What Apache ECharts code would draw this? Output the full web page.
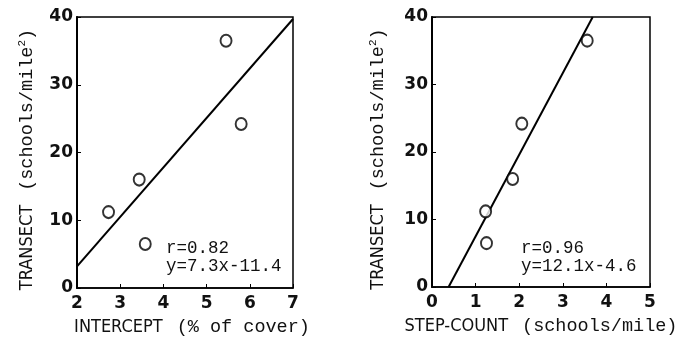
<!DOCTYPE html>
<html>
<head>
<meta charset="utf-8">
<script src="https://cdn.jsdelivr.net/npm/echarts@6/dist/echarts.min.js"></script>
<style>
  html, body { margin: 0; padding: 0; background: #fff; }
  #chart { width: 685px; height: 338px; }
</style>
</head>
<body>
<div id="chart"></div>
<script>
// Transect density for five sites (schools per square mile)
const transect = [6.5, 11.2, 16.0, 24.2, 36.5];
// Line-intercept estimate for the same sites (% of cover)
const interceptCover = [3.58, 2.73, 3.44, 5.80, 5.45];
// Step-count estimate for the same sites (schools per mile)
const stepCount = [1.25, 1.23, 1.85, 2.06, 3.56];

// Least-squares fits as printed on each panel
const fitIntercept = { r: 0.82, slope: 7.3, offset: -11.4 };
const fitStep = { r: 0.96, slope: 12.1, offset: -4.6 };

// Axis ranges and tick labels
const xTicksIntercept = [2, 3, 4, 5, 6, 7];
const xTicksStep = [0, 1, 2, 3, 4, 5];
const yTicks = [0, 10, 20, 30, 40];

const SANS_NARROW = '"Liberation Sans Narrow", "DejaVu Sans Condensed", "Liberation Sans", sans-serif';
const MONO = '"Liberation Mono", "DejaVu Sans Mono", monospace';
const TICK_FONT = '"DejaVu Sans", "Liberation Sans", sans-serif';

// Endpoints of a fitted line, clipped to the plotting window
function fitSegment(fit, xMin, xMax, yMin, yMax) {
  let x0 = xMin, x1 = xMax;
  const xAtYMin = (yMin - fit.offset) / fit.slope;
  const xAtYMax = (yMax - fit.offset) / fit.slope;
  x0 = Math.max(x0, Math.min(xAtYMin, xAtYMax));
  x1 = Math.min(x1, Math.max(xAtYMin, xAtYMax));
  return [[x0, fit.slope * x0 + fit.offset], [x1, fit.slope * x1 + fit.offset]];
}

const yName = '{t|TRANSECT}{g| }{m|(schools/mile}{s|2}{m|)}';
const nameRich = {
  t: { fontFamily: SANS_NARROW, fontSize: 18, color: '#111' },
  g: { fontFamily: MONO, fontSize: 18, color: '#111', width: 14 },
  m: { fontFamily: MONO, fontSize: 18.5, color: '#111' },
  s: { fontFamily: MONO, fontSize: 11, color: '#111', padding: [0, 0, 9, 0] }
};

function xAxisFor(gridIndex, ticks, label, shift) {
  return {
    type: 'value', gridIndex,
    min: ticks[0], max: ticks[ticks.length - 1], interval: 1,
    name: label, nameLocation: 'middle', nameGap: 30,
    nameTextStyle: { rich: nameRich, padding: [0, 0, 0, shift] },
    axisLine: { show: true, onZero: false, lineStyle: { color: '#000', width: 1.5 } },
    axisTick: { show: true, inside: true, length: 4, lineStyle: { color: '#000', width: 1 } },
    axisLabel: { fontFamily: TICK_FONT, fontSize: 17, fontWeight: 'bold', color: '#111', margin: 7 },
    splitLine: { show: false }
  };
}

function yAxisFor(gridIndex, gap) {
  return {
    type: 'value', gridIndex,
    min: yTicks[0], max: yTicks[yTicks.length - 1], interval: 10,
    name: yName, nameLocation: 'middle', nameGap: gap,
    nameTextStyle: { rich: nameRich, padding: [0, 14, 0, 0] },
    axisLine: { show: true, onZero: false, lineStyle: { color: '#000', width: 2 } },
    axisTick: { show: true, inside: true, length: 4, lineStyle: { color: '#000', width: 1 } },
    axisLabel: { fontFamily: TICK_FONT, fontSize: 17, fontWeight: 'bold', color: '#111', margin: 4 },
    splitLine: { show: false }
  };
}

function pointsFrom(xs, ys) {
  return xs.map((x, i) => [x, ys[i]]);
}

const circleStyle = {
  type: 'scatter',
  symbol: 'emptyCircle',
  symbolSize: [11, 12],
  itemStyle: { color: '#000', borderColor: '#000', borderWidth: 1.3 },
  z: 5
};

const lineStyle = {
  type: 'line',
  showSymbol: false,
  lineStyle: { color: '#000', width: 2 },
  z: 3
};

function statsText(fit) {
  const sign = fit.offset < 0 ? '-' : '+';
  return 'r=' + fit.r.toFixed(2) + '\n' +
    'y=' + fit.slope.toFixed(1) + 'x' + sign + Math.abs(fit.offset).toFixed(1);
}

const chart = echarts.init(document.getElementById('chart'), null, { renderer: 'canvas' });

chart.setOption({
  backgroundColor: '#fff',
  animation: false,
  grid: [
    { left: 77, top: 17, width: 216, height: 271, show: true, borderColor: '#000', borderWidth: 1.5, backgroundColor: 'transparent', outerBoundsMode: 'none' },
    { left: 432, top: 17, width: 218, height: 270, show: true, borderColor: '#000', borderWidth: 1.5, backgroundColor: 'transparent', outerBoundsMode: 'none' }
  ],
  xAxis: [
    xAxisFor(0, xTicksIntercept, '{t|INTERCEPT}{g| }{m|(% of cover)}', 14),
    xAxisFor(1, xTicksStep, '{t|STEP-COUNT}{g| }{m|(schools/mile)}', 0)
  ],
  yAxis: [yAxisFor(0, 40), yAxisFor(1, 44)],
  graphic: [
    {
      type: 'text', left: 166, top: 239,
      style: { text: statsText(fitIntercept), fontFamily: MONO, fontSize: 17.5, lineHeight: 18, fill: '#111' }
    },
    {
      type: 'text', left: 521, top: 239,
      style: { text: statsText(fitStep), fontFamily: MONO, fontSize: 17.5, lineHeight: 18, fill: '#111' }
    }
  ],
  series: [
    Object.assign({}, lineStyle, {
      xAxisIndex: 0, yAxisIndex: 0,
      data: fitSegment(fitIntercept, xTicksIntercept[0], xTicksIntercept[xTicksIntercept.length - 1], yTicks[0], yTicks[yTicks.length - 1])
    }),
    Object.assign({}, circleStyle, {
      xAxisIndex: 0, yAxisIndex: 0,
      data: pointsFrom(interceptCover, transect)
    }),
    Object.assign({}, lineStyle, {
      xAxisIndex: 1, yAxisIndex: 1,
      data: fitSegment(fitStep, xTicksStep[0], xTicksStep[xTicksStep.length - 1], yTicks[0], yTicks[yTicks.length - 1])
    }),
    Object.assign({}, circleStyle, {
      xAxisIndex: 1, yAxisIndex: 1,
      data: pointsFrom(stepCount, transect)
    })
  ]
});
</script>
</body>
</html>
